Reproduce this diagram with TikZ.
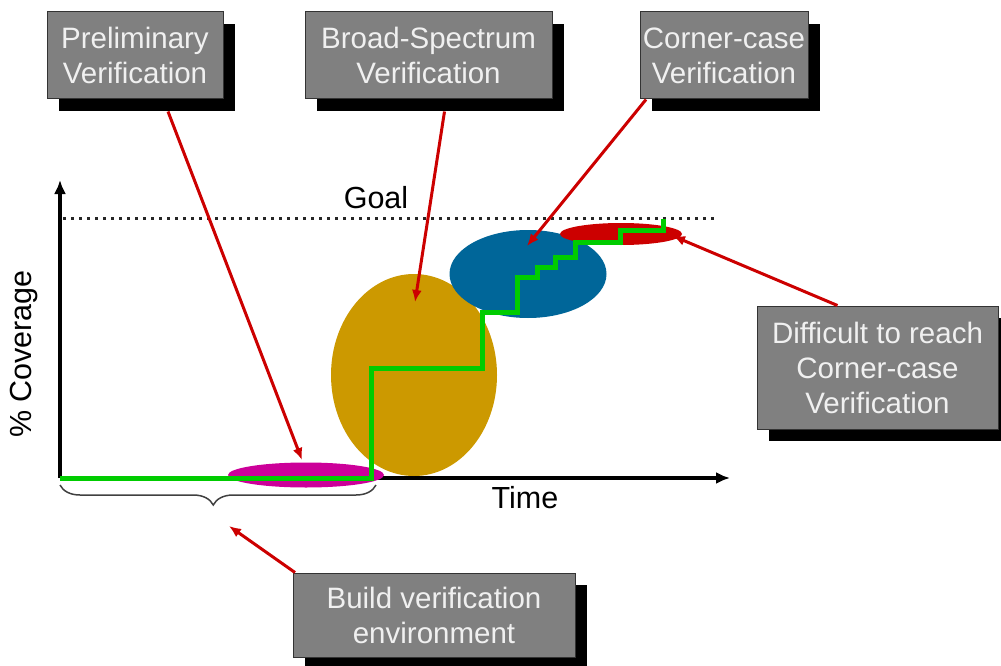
\documentclass[tikz,border=0pt]{standalone}
\usepackage{fontspec}
\setmainfont{Liberation Sans}
\usetikzlibrary{shapes.geometric,shadows,arrows.meta,decorations.pathreplacing}
\definecolor{boxgray}{HTML}{808080}
\definecolor{boxtext}{HTML}{F0F0F0}
\definecolor{gold}{HTML}{CC9900}
\definecolor{ocean}{HTML}{006699}
\definecolor{flame}{HTML}{CC0000}
\definecolor{plum}{HTML}{CC0099}
\definecolor{lime}{HTML}{00CC00}
\tikzset{
  callout/.style={draw=black!80, line width=1pt, fill=boxgray, text=boxtext,
    align=center, inner sep=0pt,
    font=\fontsize{29.5}{35}\selectfont,
    drop shadow={shadow xshift=12pt, shadow yshift=-12pt, opacity=1, fill=black}},
  blob/.style={ellipse, draw=none, inner sep=0pt},
  pointer/.style={draw=flame, line width=3pt, -{Latex[length=12pt,width=10pt]}},
  axis/.style={draw=black, line width=3.2pt, -{Latex[length=14pt,width=12pt]}},
  label/.style={font=\fontsize{30.5}{34}\selectfont, text=black, inner sep=0pt},
  progress/.style={draw=lime, line width=5pt, line join=miter},
}
\begin{document}
\begin{tikzpicture}[x=1pt, y=-1pt]
\useasboundingbox (0,0) rectangle (1001,666);

% axes and goal line
\coordinate (origin) at (60,478);
\coordinate (ytop) at (60,180);
\coordinate (xend) at (730,478);
\draw[axis] (origin) -- (ytop);
\draw[axis] (origin) -- (xend);
\coordinate (goalL) at (63,218);
\coordinate (goalR) at (718,218);
\draw[black!85, line width=3pt, dash pattern=on 3pt off 5pt] (goalL) -- (goalR);

\node[label] (goal) at (376,198) {Goal};
\node[label] (time) at (525,498) {Time};
\node[label, rotate=90] (cov) at (24,354) {\% Coverage};

% coverage phases
\node[blob, fill=gold, minimum width=166pt, minimum height=202pt] (broadE) at (414,375) {};
\node[blob, fill=ocean, minimum width=157pt, minimum height=88pt] (cornerE) at (528,274) {};
\node[blob, fill=flame, minimum width=122pt, minimum height=22pt] (hardE) at (621,234) {};
\node[blob, fill=plum, minimum width=156pt, minimum height=25pt] (prelimE) at (306,475) {};

% coverage over time
\draw[progress] (origin) -- (371,478) -- (371,368) -- (482,368) -- (482,312)
  -- (517,312) -- (517,277) -- (537,277) -- (537,267) -- (555,267)
  -- (555,257) -- (575,257) -- (575,242) -- (620,242) -- (620,230)
  -- (663,230) -- (663,219);

% set-up period
\coordinate (bl) at (60,485);
\coordinate (br) at (376,485);
\draw[black!75, line width=1.5pt, decorate,
  decoration={brace, mirror, amplitude=20pt, aspect=0.485}] (bl) -- (br);

% pointer tips
\coordinate (tipP) at (302,460);
\coordinate (tipB) at (415,302);
\coordinate (tipC) at (527,246);
\coordinate (tipH) at (673,236);
\coordinate (tipE) at (229,526);

% callout boxes
\node[callout, minimum width=176pt, minimum height=87pt] (prelim) at (135,55.5)
  {Preliminary\\Verification};
\node[callout, minimum width=247pt, minimum height=87pt] (broad) at (428.5,55.5)
  {Broad-Spectrum\\Verification};
\node[callout, minimum width=168pt, minimum height=87pt] (corner) at (724,55.5)
  {Corner-case\\Verification};
\node[callout, minimum width=241pt, minimum height=123pt] (hard) at (877.5,367.5)
  {Difficult to reach\\Corner-case\\Verification};
\node[callout, minimum width=282pt, minimum height=84pt] (build) at (434,615)
  {Build verification\\environment};

% pointers
\draw[pointer] ([xshift=33pt,yshift=-12pt]prelim.south) -- (tipP);
\draw[pointer] ([xshift=16pt,yshift=-12pt]broad.south) -- (tipB);
\draw[pointer] ([xshift=-78pt]corner.south) -- (tipC);
\draw[pointer] ([xshift=-40pt]hard.north) -- (tipH);
\draw[pointer] ([xshift=-139pt]build.north) -- (tipE);
\end{tikzpicture}
\end{document}
